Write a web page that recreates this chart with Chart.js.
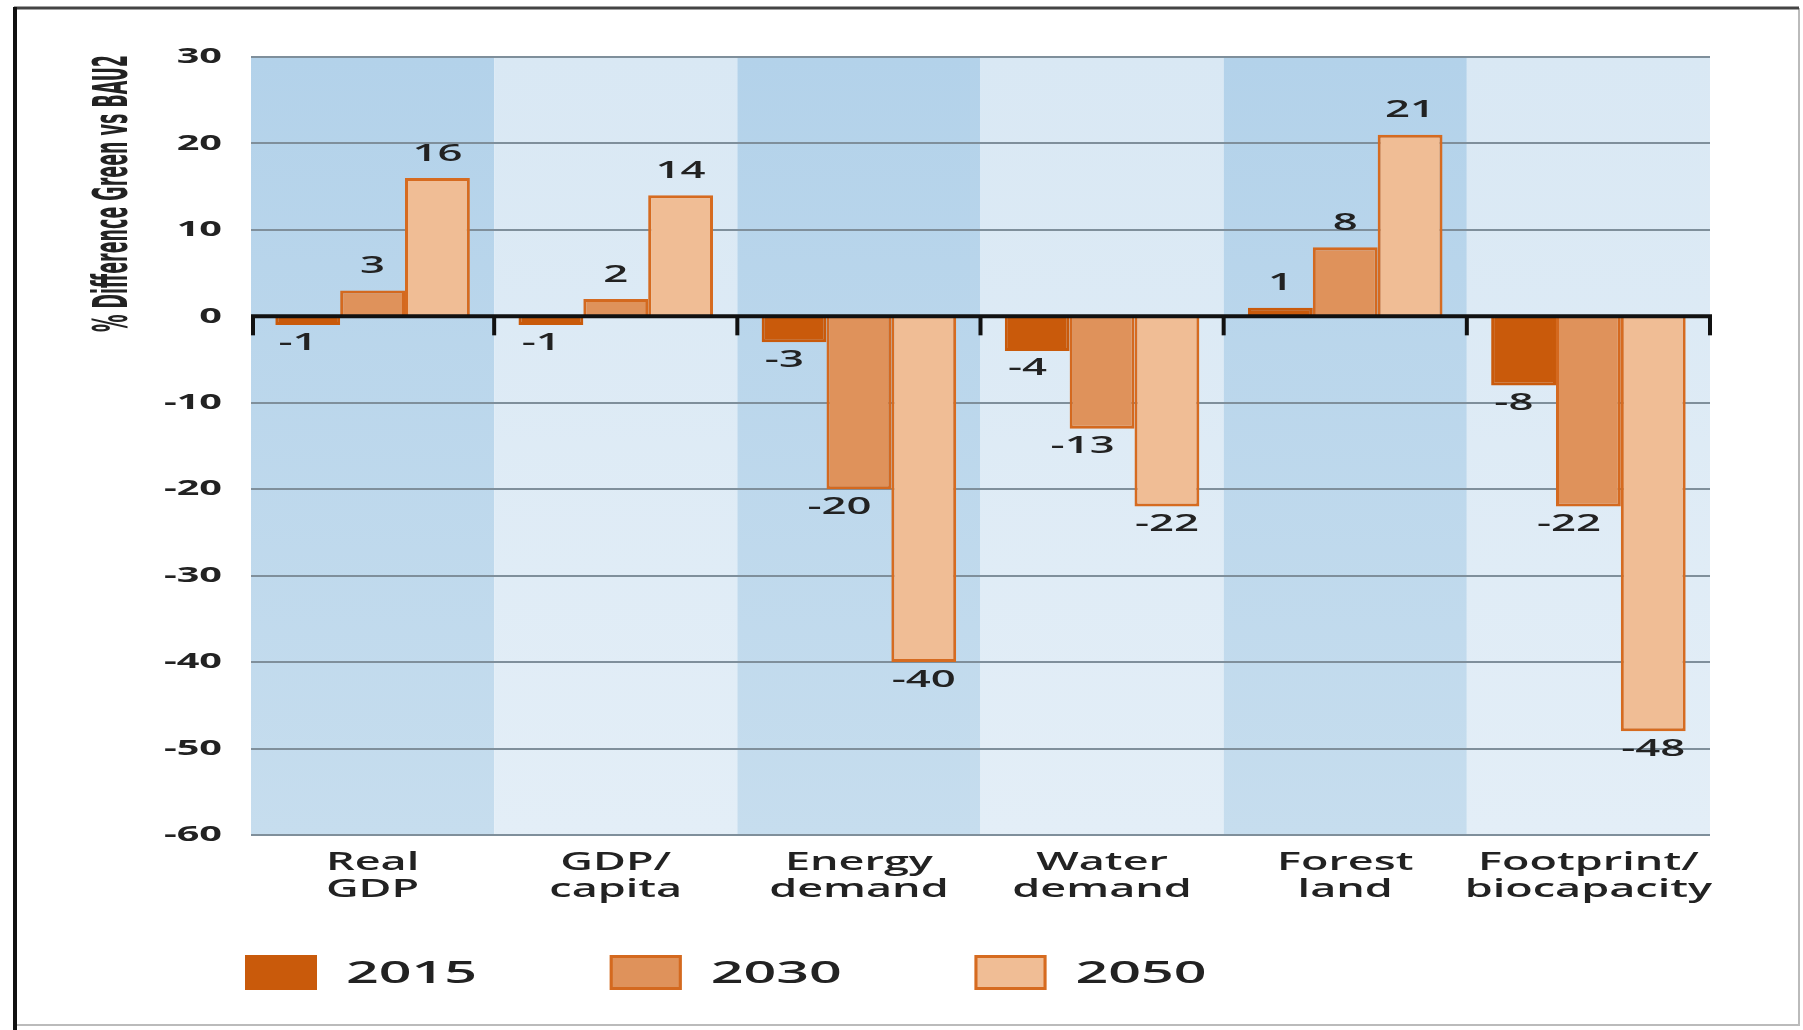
<!DOCTYPE html>
<html>
<head>
<meta charset="utf-8">
<script src="https://cdn.jsdelivr.net/npm/chart.js@4.4.1/dist/chart.umd.min.js"></script>
<style>
  html, body { margin: 0; padding: 0; background: #fff; }
  #chart { display: block; }
</style>
</head>
<body>
<canvas id="chart" width="1803" height="1030"></canvas>
<script>
const categories = [
  ["Real", "GDP"],
  ["GDP/", "capita"],
  ["Energy", "demand"],
  ["Water", "demand"],
  ["Forest", "land"],
  ["Footprint/", "biocapacity"],
];
const years = ["2015", "2030", "2050"];
const values2015 = [-1, -1, -3, -4, 1, -8];
const values2030 = [3, 2, -20, -13, 8, -22];
const values2050 = [16, 14, -40, -22, 21, -48];
const yTickValues = [30, 20, 10, 0, -10, -20, -30, -40, -50, -60];
const yTitle = "% Difference Green vs BAU2";

const fills = ["#c95a0b", "#df925b", "#f0bd95"];
const borders = ["#c95a0b", "#d4691f", "#d66b20"];
// negative value labels sit a little left of their bar
const negLabelShift = [-0.15, -0.3, 0];

const WIDE = 1.8; // horizontal stretch used for all text
const INK = "#222";

function wideText(ctx, text, x, y, font, align, sx) {
  ctx.save();
  ctx.translate(x, y);
  ctx.scale(sx, 1);
  ctx.font = font;
  ctx.fillStyle = INK;
  ctx.textAlign = align;
  ctx.textBaseline = "middle";
  ctx.fillText(text, 0, 0);
  ctx.restore();
}

function halfBand(x) {
  return (x.getPixelForValue(1) - x.getPixelForValue(0)) / 2;
}

const bandsPlugin = {
  id: "bands",
  beforeDraw(chart) {
    const { ctx, chartArea: { top, bottom }, scales: { x } } = chart;
    ctx.save();
    ctx.fillStyle = "#fff";
    ctx.fillRect(0, 0, chart.width, chart.height);
    const hw = halfBand(x);
    categories.forEach((c, i) => {
      const cx = x.getPixelForValue(i);
      const g = ctx.createLinearGradient(0, top, 0, bottom);
      if (i % 2 === 0) {
        g.addColorStop(0, "#b3d2ea");
        g.addColorStop(1, "#c6ddee");
      } else {
        g.addColorStop(0, "#d9e8f4");
        g.addColorStop(1, "#e3eef7");
      }
      ctx.fillStyle = g;
      ctx.fillRect(cx - hw, top, hw * 2, bottom - top);
    });
    ctx.restore();
  },
};

const overlayPlugin = {
  id: "overlay",
  afterDatasetsDraw(chart) {
    const { ctx, chartArea: { left, right }, scales: { x, y } } = chart;
    const y0 = y.getPixelForValue(0);
    ctx.save();
    ctx.strokeStyle = "#111";
    ctx.lineWidth = 4;
    ctx.beginPath();
    ctx.moveTo(left, y0);
    ctx.lineTo(right + 2, y0);
    ctx.stroke();
    // tick marks hanging from the zero line at the category edges
    const hw = halfBand(x);
    for (let i = 0; i <= categories.length; i++) {
      let bx = x.getPixelForValue(0) - hw + i * hw * 2;
      bx = Math.min(Math.max(bx, left + 2), right);
      ctx.beginPath();
      ctx.moveTo(bx, y0);
      ctx.lineTo(bx, y0 + 19);
      ctx.stroke();
    }
    ctx.restore();

    // value labels
    chart.data.datasets.forEach((ds, di) => {
      chart.getDatasetMeta(di).data.forEach((bar, i) => {
        const v = ds.data[i];
        const w = bar.width;
        let lx = bar.x;
        let ly;
        if (v >= 0) {
          ly = bar.y - 24;
        } else {
          ly = bar.y + 18;
          lx += negLabelShift[di] * w;
        }
        wideText(ctx, String(v), lx, ly, "600 23px 'Open Sans'", "center", 1.9);
      });
    });
  },
  afterDraw(chart) {
    const { ctx, chartArea: { left, top, bottom }, scales: { x, y } } = chart;

    // y tick labels
    y.ticks.forEach((t) => {
      wideText(ctx, String(t.value), left - 29, y.getPixelForValue(t.value),
        "700 22px 'Open Sans'", "right", WIDE);
    });

    // category labels (two lines)
    categories.forEach((lines, i) => {
      const cx = x.getPixelForValue(i);
      lines.forEach((ln, k) => {
        wideText(ctx, ln, cx, bottom + 28 + k * 26.5, "600 25px 'Open Sans'", "center", WIDE);
      });
    });

    // rotated axis title: tall, narrow lettering running up from y≈332 to the plot top
    ctx.save();
    ctx.font = "bold 26px 'Liberation Sans Narrow', 'DejaVu Sans Condensed', sans-serif";
    const titleLen = 277;
    const squeeze = titleLen / ctx.measureText(yTitle).width;
    ctx.translate(127, top - 2);
    ctx.rotate(-Math.PI / 2);
    ctx.scale(squeeze, 1.85);
    ctx.fillStyle = INK;
    ctx.textAlign = "right";
    ctx.textBaseline = "alphabetic";
    ctx.fillText(yTitle, 0, 0);
    ctx.restore();

    // legend
    const hw = halfBand(x);
    years.forEach((yr, i) => {
      const sx = left - 6 + i * hw * 3;
      const sy = 955;
      ctx.save();
      ctx.fillStyle = fills[i];
      ctx.fillRect(sx, sy, 72, 35);
      ctx.strokeStyle = borders[i];
      ctx.lineWidth = 3;
      ctx.strokeRect(sx + 1.5, sy + 1.5, 69, 32);
      ctx.restore();
      wideText(ctx, yr, sx + 101, sy + 19, "600 31px 'Open Sans'", "left", 1.85);
    });

    // outer frame
    ctx.save();
    ctx.lineWidth = 2;
    ctx.strokeStyle = "#bbb";
    ctx.beginPath();
    ctx.moveTo(14, 1025); ctx.lineTo(1799, 1025); ctx.lineTo(1799, 8);
    ctx.stroke();
    ctx.strokeStyle = "#444";
    ctx.lineWidth = 3;
    ctx.beginPath();
    ctx.moveTo(14, 8); ctx.lineTo(1799, 8);
    ctx.stroke();
    ctx.strokeStyle = "#111";
    ctx.lineWidth = 4;
    ctx.beginPath();
    ctx.moveTo(15, 7); ctx.lineTo(15, 1030);
    ctx.stroke();
    ctx.restore();
  },
};

const seriesValues = [values2015, values2030, values2050];

new Chart(document.getElementById("chart"), {
  type: "bar",
  data: {
    labels: categories,
    datasets: years.map((yr, i) => ({
      label: yr,
      data: seriesValues[i],
      backgroundColor: fills[i],
      borderColor: borders[i],
      borderWidth: 3,
      barPercentage: 1.0,
      categoryPercentage: 0.8,
    })),
  },
  options: {
    responsive: false,
    animation: false,
    devicePixelRatio: 1,
    layout: { padding: { left: 251, right: 93, top: 57, bottom: 187 } },
    plugins: {
      legend: { display: false },
      tooltip: { enabled: false },
    },
    scales: {
      x: {
        grid: { display: false },
        ticks: { display: false },
        border: { display: false },
      },
      y: {
        min: Math.min(...yTickValues),
        max: Math.max(...yTickValues),
        ticks: { stepSize: 10, display: false },
        grid: {
          color: (c) => (c.tick && c.tick.value === 0 ? "rgba(0,0,0,0)" : "#7f8f9b"),
          lineWidth: 2,
          drawTicks: false,
        },
        border: { display: false },
      },
    },
  },
  plugins: [bandsPlugin, overlayPlugin],
});
</script>
</body>
</html>
